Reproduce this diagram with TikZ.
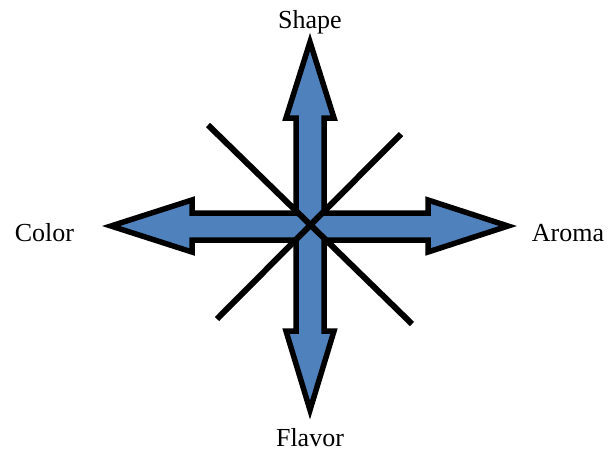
\documentclass[tikz,border=0pt]{standalone}
\usepackage{fontspec}
\setmainfont{Liberation Serif}
\definecolor{arrowblue}{RGB}{79,129,189}
\tikzset{
  crossarrow/.style={fill=arrowblue, draw=black, line width=5.5pt, line join=miter, miter limit=10},
  diag/.style={draw=black, line width=6pt},
  lbl/.style={font=\fontsize{26}{30}\selectfont, anchor=base, inner sep=0pt}
}
\begin{document}
\begin{tikzpicture}[x=1pt, y=-1pt]
\useasboundingbox (0,0) rectangle (613,451);
% four-headed arrow (union outline)
\draw[crossarrow]
  (310,42) -- (334,118) -- (324,118) -- (324,213)
  -- (428,213) -- (428,200) -- (508,226) -- (428,252) -- (428,240)
  -- (324,240) -- (324,331) -- (334,331) -- (310,410) -- (286,331) -- (296,331)
  -- (296,240) -- (192,240) -- (192,252) -- (111,226) -- (192,200) -- (192,213)
  -- (296,213) -- (296,118) -- (286,118) -- cycle;
% diagonals
\coordinate (d1a) at (208,125);
\coordinate (d1b) at (412,324);
\coordinate (d2a) at (401,134);
\coordinate (d2b) at (217,319);
\draw[diag] (d1a) -- (d1b);
\draw[diag] (d2a) -- (d2b);
% labels
\node[lbl] (shape) at (310,28) {Shape};
\node[lbl] (flavor) at (310,446) {Flavor};
\node[lbl] (color) at (44.5,241) {Color};
\node[lbl] (aroma) at (568,241) {Aroma};
\end{tikzpicture}
\end{document}
